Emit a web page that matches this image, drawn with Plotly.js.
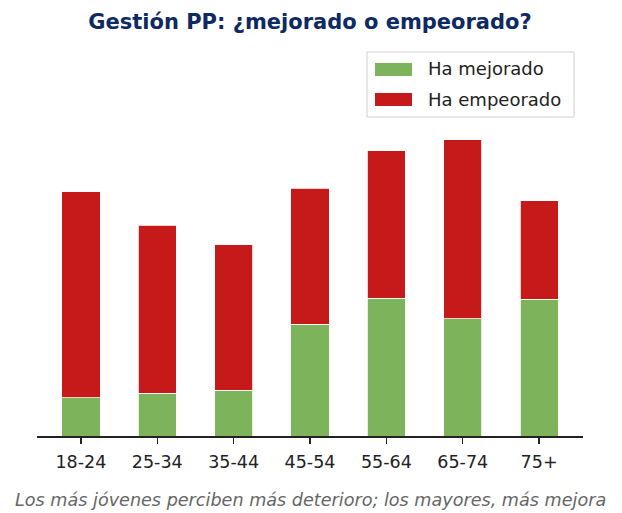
<!DOCTYPE html>
<html>
<head>
<meta charset="utf-8">
<script src="https://cdn.plot.ly/plotly-3.0.1.min.js"></script>
<style>
  html, body { margin: 0; padding: 0; background: #fff; }
  #chart { width: 622px; height: 513px; }
</style>
</head>
<body>
<div id="chart"></div>
<script>
var grupos = ['18-24', '25-34', '35-44', '45-54', '55-64', '65-74', '75+'];
var mejorado = [9.6, 10.7, 11.5, 27.9, 34.4, 29.3, 34.2];
var empeorado = [51.5, 42.0, 36.3, 34.0, 36.9, 44.8, 24.6];

var verde = '#7db35a';
var rojo = '#c61a1a';

// plot area in pixels: x 37..583, y 40..436
var L = 37, R = 583, T = 40, B = 436;
function px(x) { return (x - L) / (R - L); }
function py(y) { return (B - y) / (B - T); }

var trace1 = {
  x: grupos,
  y: mejorado,
  name: 'Ha mejorado',
  type: 'bar',
  width: 0.5,
  marker: { color: verde, line: { color: 'rgba(255,255,255,0.8)', width: 1 } },
  hoverinfo: 'none'
};
var trace2 = {
  x: grupos,
  y: empeorado,
  name: 'Ha empeorado',
  type: 'bar',
  width: 0.5,
  marker: { color: rojo, line: { color: 'rgba(255,255,255,0.8)', width: 1 } },
  hoverinfo: 'none'
};

// hand made legend, matplotlib style
var shapes = [
  { type: 'rect', xref: 'paper', yref: 'paper', x0: px(367), x1: px(574), y0: py(52), y1: py(117),
    line: { color: '#d0d0d0', width: 1 }, fillcolor: 'rgba(255,255,255,0.8)' },
  { type: 'rect', xref: 'paper', yref: 'paper', x0: px(375), x1: px(412), y0: py(63), y1: py(76),
    line: { width: 0 }, fillcolor: verde },
  { type: 'rect', xref: 'paper', yref: 'paper', x0: px(375), x1: px(412), y0: py(93), y1: py(106),
    line: { width: 0 }, fillcolor: rojo }
];
var annotations = [
  { xref: 'paper', yref: 'paper', x: px(426), y: py(69), text: 'Ha mejorado', showarrow: false,
    xanchor: 'left', yanchor: 'middle', font: { family: 'DejaVu Sans', size: 18, color: '#222' } },
  { xref: 'paper', yref: 'paper', x: px(426), y: py(99), text: 'Ha empeorado', showarrow: false,
    xanchor: 'left', yanchor: 'middle', font: { family: 'DejaVu Sans', size: 18, color: '#222' } },
  { xref: 'paper', yref: 'paper', x: 0.5, y: py(500), text: '<i>Los más jóvenes perciben más deterioro; los mayores, más mejora</i>',
    showarrow: false, xanchor: 'center', yanchor: 'middle', font: { family: 'DejaVu Sans', size: 17.6, color: '#666' } }
];

var layout = {
  width: 622,
  height: 513,
  barmode: 'stack',
  showlegend: false,
  paper_bgcolor: '#fff',
  plot_bgcolor: '#fff',
  margin: { l: L, r: 622 - R, t: T, b: 513 - B },
  title: {
    text: '<b>Gestión PP: ¿mejorado o empeorado?</b>',
    font: { family: 'DejaVu Sans', size: 21, color: '#0d2a63' },
    x: 0.5, xref: 'paper', xanchor: 'center',
    y: 1 - 22 / 513, yref: 'container', yanchor: 'middle'
  },
  xaxis: {
    type: 'category',
    range: [-0.575, 6.575],
    showline: true, linecolor: '#222', linewidth: 1.5,
    ticks: 'outside', ticklen: 6, tickwidth: 1.5, tickcolor: '#222',
    ticklabelstandoff: 3,
    showgrid: false, zeroline: false,
    tickfont: { family: 'DejaVu Sans', size: 17.5, color: '#222' }
  },
  yaxis: {
    range: [0, 99],
    visible: false,
    showgrid: false, zeroline: false
  },
  shapes: shapes,
  annotations: annotations
};

Plotly.newPlot('chart', [trace1, trace2], layout, { displayModeBar: false, staticPlot: true });
</script>
</body>
</html>
